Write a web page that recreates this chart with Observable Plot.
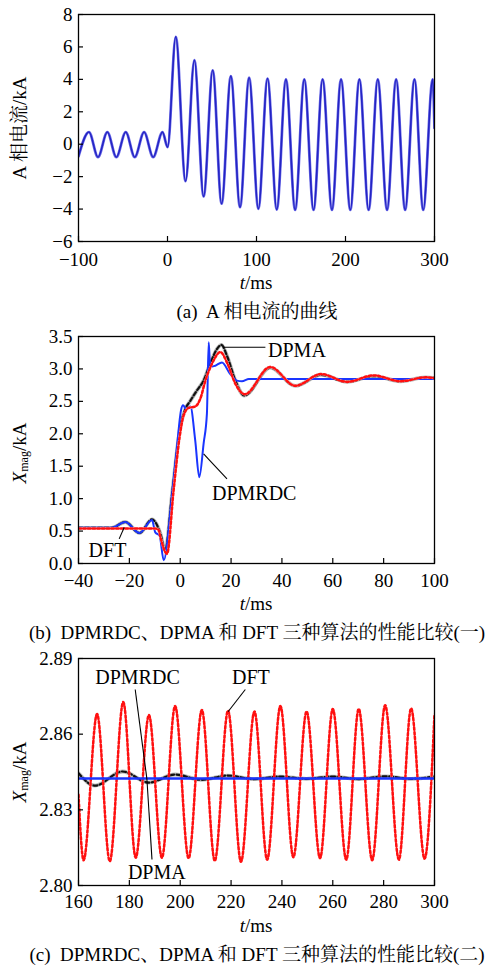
<!DOCTYPE html>
<html>
<head>
<meta charset="utf-8">
<script src="https://cdn.jsdelivr.net/npm/d3@7"></script>
<script src="https://cdn.jsdelivr.net/npm/@observablehq/plot@0.6"></script>
<style>
  html, body { margin: 0; padding: 0; background: #fff; overflow: hidden; }
  #root { position: relative; width: 499px; height: 967px; font-family: "Times New Roman", "Liberation Serif", Tinos, "DejaVu Serif", "Noto Serif CJK SC", "Noto Sans CJK SC", serif; color: #000; }
  .panel { position: absolute; left: 0; }
  .lbl { position: absolute; white-space: pre; font-size: 19px; line-height: 22px; transform: translateX(-50%); }
</style>
</head>
<body>
<div id="root"></div>
<script>
// ---------- Panel (a): A-phase current ----------
const aTime = [-100, -88.2, -78.1, -67.6, -57.5, -46.9, -36.8, -26.3, -16.1, -5.6, 0.1,
  9.3, 20.3, 30.2, 40.6, 50.8, 60.8, 71.2, 81.5, 91.7, 102.1, 112.4, 122.8, 133.1, 143.4,
  153.7, 164.1, 174.3, 184.8, 195.0, 205.4, 215.6, 226.0, 236.3, 246.7, 256.9, 267.0,
  277.5, 287.3, 298.0, 300];
const aCurrent = [-0.75, 0.75, -0.8, 0.75, -0.8, 0.75, -0.8, 0.75, -0.8, 0.75, -0.18,
  6.62, -2.28, 5.18, -3.22, 4.56, -3.67, 4.2, -3.88, 4.1, -3.98, 4.05, -4.03, 4.0, -4.05,
  4.0, -4.05, 4.0, -4.05, 4.0, -4.05, 4.0, -4.05, 4.0, -4.05, 4.0, -4.05,
  4.0, -4.05, 4.0, 1.0];
const aXTicks = [-100, 0, 100, 200, 300];
const aYTicks = [-6, -4, -2, 0, 2, 4, 6, 8];

// ---------- Panel (b): comparison (1) ----------
const bDftT = [-40, -10, -8.5, -7.8, -5.2, -2.6, -0.25, 1.3, 3.3, 5.9, 7.9, 9.9, 12.5, 15.8, 18.6, 21.7, 25.4, 35.4, 45.3, 55.4, 65.6, 76.1, 86.6, 96.5, 100];
const bDftV = [0.54, 0.54, 0.52, 0.41, 0.15, 1.13, 1.95, 2.28, 2.40, 2.42, 2.54, 2.82, 3.08, 3.26, 3.08, 2.77, 2.61, 3.03, 2.74, 2.92, 2.80, 2.90, 2.81, 2.87, 2.86];
const bDpmaT = [-40, -27, -21.6, -16, -11.1, -9.5, -7.8, -5.9, -3.2, 0, 2.0, 4.0, 6.6, 9.2, 11.8, 14.5, 16.2, 18.6, 21.7, 25.2, 35.4, 45.3, 55.4, 65.6, 76.1, 86.6, 96.5, 100];
const bDpmaV = [0.55, 0.55, 0.64, 0.47, 0.68, 0.62, 0.46, 0.20, 1.07, 2.10, 2.38, 2.51, 2.67, 2.82, 3.08, 3.31, 3.37, 3.18, 2.82, 2.59, 3.02, 2.74, 2.91, 2.80, 2.89, 2.81, 2.87, 2.86];
const bRdcT = [-40, -27, -21.6, -16, -11.1, -9.8, -8.1, -6.5, -3.2, -1.3, 0.3, 1.1, 2.4, 4.0, 5.9, 7.5, 9.2, 10.5, 11.2, 11.8, 13.8, 16.4, 19.7, 22.3, 24.3, 27, 100];
const bRdcV = [0.55, 0.55, 0.64, 0.47, 0.67, 0.48, 0.43, 0.05, 1.07, 1.79, 2.36, 2.44, 2.38, 2.42, 1.90, 1.33, 1.85, 2.31, 3.41, 3.03, 3.05, 3.10, 2.92, 2.82, 2.81, 2.845, 2.845];
const bXTicks = [-40, -20, 0, 20, 40, 60, 80, 100];
const bYTicks = [0, 0.5, 1.0, 1.5, 2.0, 2.5, 3.0, 3.5];
const bLabels = [
  {t: 45.9, v: 3.28, text: "DPMA"},
  {t: 29.1, v: 1.08, text: "DPMRDC"},
  {t: -28.6, v: 0.20, text: "DFT"}
];
const bLeaders = [
  {t1: 16.8, v1: 3.335, t2: 33.5, v2: 3.335},
  {t1: 9.2, v1: 1.69, t2: 18.4, v2: 1.306},
  {t1: -24, v1: 0.38, t2: -22, v2: 0.56}
];

// ---------- Panel (c): comparison (2) ----------
const cDftT = [160, 162.0, 167.3, 172.3, 177.6, 182.5, 187.7, 192.8, 198.0, 203.3, 208.5, 213.6, 218.8, 223.9, 229.2, 234.2, 239.4, 244.5, 249.7, 255.0, 260.0, 265.3, 270.2, 275.5, 280.6, 286.0, 290.8, 296.1, 300];
const cDftV = [2.836, 2.810, 2.868, 2.8096, 2.8728, 2.811, 2.8676, 2.811, 2.8712, 2.8108, 2.8696, 2.8098, 2.8693, 2.8094, 2.869, 2.8102, 2.8712, 2.8112, 2.869, 2.8108, 2.870, 2.8102, 2.870, 2.810, 2.8715, 2.8102, 2.8702, 2.8106, 2.868];
const cDpmaT = [160, 166.5, 177.3, 187.7, 198.0, 208.3, 218.7, 229.0, 239.3, 249.6, 260.0, 270.3, 280.6, 290.8, 300];
const cDpmaV = [2.8445, 2.8396, 2.8452, 2.8408, 2.8440, 2.8419, 2.8436, 2.8422, 2.8432, 2.8423, 2.8432, 2.8422, 2.8433, 2.8423, 2.8432];
const cRdcT = [160, 300];
const cRdcV = [2.8424, 2.8424];
const cXTicks = [160, 180, 200, 220, 240, 260, 280, 300];
const cYTicks = [2.80, 2.83, 2.86, 2.89];
const cLabels = [
  {t: 183.2, v: 2.8825, text: "DPMRDC"},
  {t: 227.8, v: 2.8825, text: "DFT"},
  {t: 190.8, v: 2.8050, text: "DPMA"}
];
const cLeaders = [
  {t1: 182.3, v1: 2.8777, t2: 186.9, v2: 2.8422},
  {t1: 188.9, v1: 2.8103, t2: 186.9, v2: 2.8422},
  {t1: 225.6, v1: 2.8777, t2: 218.8, v2: 2.8689}
];

const captions = [
  "(a)  A 相电流的曲线",
  "(b)  DPMRDC、DPMA 和 DFT 三种算法的性能比较(一)",
  "(c)  DPMRDC、DPMA 和 DFT 三种算法的性能比较(二)"
];

// ---------- helpers ----------
const FONT = "'Times New Roman', 'Liberation Serif', Tinos, 'DejaVu Serif', 'Noto Serif CJK SC', 'Noto Sans CJK SC', serif";
const W = 499, H = 270, MT = 14, MB = 29, ML = 78, MR = 65;
const innerW = W - ML - MR, innerH = H - MT - MB;
const pts = (T, V) => T.map((t, i) => ({t, v: V[i]}));
const minusFmt = d => (d < 0 ? "\u2212" + Math.abs(d) : String(d));

function frameMarks(xTicks, yTicks, xFmt, yFmt, padX) {
  return [
    Plot.frame({stroke: "black", strokeWidth: 1.3}),
    Plot.tickX(xTicks, {x: d => d, insetTop: innerH - 5, stroke: "black", strokeWidth: 1.2}),
    Plot.tickY(yTicks, {y: d => d, insetRight: innerW - 5, stroke: "black", strokeWidth: 1.2}),
    Plot.axisX({ticks: xTicks, tickSize: 0, tickPadding: padX, tickFormat: xFmt, fontSize: 19, label: null}),
    Plot.axisY({ticks: yTicks, tickSize: 0, tickPadding: 6, tickFormat: yFmt, fontSize: 19, label: null})
  ];
}

function makePlot(xDomain, yDomain, marks) {
  return Plot.plot({
    width: W, height: H,
    marginTop: MT, marginBottom: MB, marginLeft: ML, marginRight: MR,
    x: {domain: xDomain, axis: null},
    y: {domain: yDomain, axis: null},
    style: {fontFamily: FONT, fontSize: "19px", background: "white", color: "black", overflow: "visible"},
    marks
  });
}

function redLine(data) {
  return [
    Plot.line(data, {x: "t", y: "v", curve: "monotone-x", stroke: "#ffe4e4", strokeWidth: 2.4, clip: true}),
    Plot.line(data, {x: "t", y: "v", curve: "monotone-x", stroke: "#ff1010", strokeWidth: 2.5, strokeDasharray: "2.5,2.2", clip: true})
  ];
}
function blackLine(data) {
  return [
    Plot.line(data, {x: "t", y: "v", curve: "monotone-x", stroke: "#b8b8b8", strokeWidth: 3.8, clip: true}),
    Plot.line(data, {x: "t", y: "v", curve: "monotone-x", stroke: "#111", strokeWidth: 2.2, strokeDasharray: "4,2.5", clip: true})
  ];
}
function blueLine(data, w) {
  return [Plot.line(data, {x: "t", y: "v", curve: "monotone-x", stroke: "#1a35ff", strokeWidth: w, clip: true})];
}
function annot(labels, leaders) {
  return [
    Plot.link(leaders, {x1: "t1", y1: "v1", x2: "t2", y2: "v2", stroke: "black", strokeWidth: 1.1}),
    Plot.text(labels, {x: "t", y: "v", text: "text", fontSize: 20, fill: "black", fontFamily: FONT})
  ];
}

function yLabel(svg, y, parts) {
  const t = d3.select(svg).append("text")
    .attr("transform", `translate(19,${y}) rotate(-90)`)
    .attr("text-anchor", "middle")
    .attr("dominant-baseline", "central")
    .attr("font-size", 19)
    .attr("font-family", FONT)
    .attr("fill", "black");
  parts(t);
}

const root = document.getElementById("root");
function place(node, top) {
  node.classList.add("panel");
  node.style.top = top + "px";
  root.appendChild(node);
}
function addLabel(html, cx, cy) {
  const d = document.createElement("div");
  d.className = "lbl";
  d.innerHTML = html;
  d.style.left = cx + "px";
  d.style.top = (cy - 11) + "px";
  root.appendChild(d);
}

// ---------- Panel (a) ----------
const aData = pts(aTime, aCurrent);
const plotA = makePlot([-100, 300], [-6, 8], [
  Plot.line(aData, {x: "t", y: "v", curve: "monotone-x", stroke: "#6f6fe8", strokeWidth: 2.8, clip: true}),
  Plot.line(aData, {x: "t", y: "v", curve: "monotone-x", stroke: "#2424c4", strokeWidth: 1.6, clip: true}),
  ...frameMarks(aXTicks, aYTicks, minusFmt, minusFmt, 11)
]);
yLabel(plotA, 128, t => t.text("A 相电流/kA"));
place(plotA, 0);

// ---------- Panel (b) ----------
const fmt1 = d3.format(".1f");
const plotB = makePlot([-40, 100], [0, 3.5], [
  ...blackLine(pts(bDpmaT, bDpmaV)),
  ...blueLine(pts(bRdcT, bRdcV), 2),
  ...redLine(pts(bDftT, bDftV)),
  ...annot(bLabels, bLeaders),
  ...frameMarks(bXTicks, bYTicks, minusFmt, fmt1, 10)
]);
yLabel(plotB, 131, t => {
  t.append("tspan").attr("font-style", "italic").text("X");
  t.append("tspan").attr("font-size", 12).attr("dy", 5).text("mag");
  t.append("tspan").attr("dy", -5).text("/kA");
});
place(plotB, 322);

// ---------- Panel (c) ----------
const fmt2 = d3.format(".2f");
const plotC = makePlot([160, 300], [2.80, 2.89], [
  ...blackLine(pts(cDpmaT, cDpmaV)),
  ...redLine(pts(cDftT, cDftV)),
  ...blueLine(pts(cRdcT, cRdcV), 2.6),
  ...annot(cLabels, cLeaders),
  ...frameMarks(cXTicks, cYTicks, String, fmt2, 9)
]);
yLabel(plotC, 128, t => {
  t.append("tspan").attr("font-style", "italic").text("X");
  t.append("tspan").attr("font-size", 12).attr("dy", 5).text("mag");
  t.append("tspan").attr("dy", -5).text("/kA");
});
place(plotC, 644);

// ---------- axis titles & captions ----------
const tms = "<i>t</i>/ms";
addLabel(tms, 256, 283);
addLabel(captions[0], 257, 312);
addLabel(tms, 256, 604);
addLabel(captions[1], 257, 633);
addLabel(tms, 256, 926);
addLabel(captions[2], 257, 955);
</script>
</body>
</html>
